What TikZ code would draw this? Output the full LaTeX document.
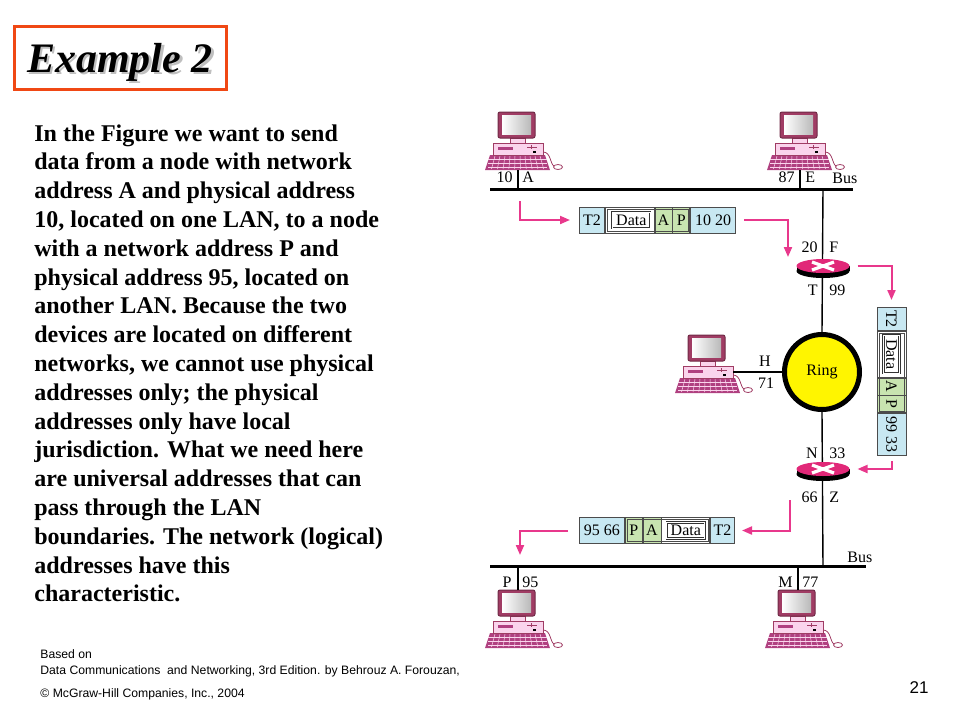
\documentclass[tikz,border=0pt]{standalone}
\usepackage{fontspec}
\setmainfont{Liberation Serif}
\newfontfamily\footfont{Liberation Sans}
\usepackage{xcolor}
\usepackage{tikz}
\usetikzlibrary{positioning,arrows.meta,calc}

\definecolor{titlered}{RGB}{240,72,20}
\definecolor{pinkline}{RGB}{232,56,140}
\definecolor{cellblue}{RGB}{200,232,242}
\definecolor{cellgreen}{RGB}{200,228,176}
\definecolor{ringyellow}{RGB}{255,245,0}
\definecolor{routerpink}{RGB}{225,40,120}
\definecolor{pcframe}{RGB}{160,60,100}
\definecolor{pcbody}{RGB}{250,212,236}
\definecolor{pckeys}{RGB}{176,64,128}

\newcommand\diagfont{\fontsize{8}{9.6}\selectfont}

\begin{document}
\begin{tikzpicture}[
    x=0.5pt, y=-0.5pt,
    bus/.style={line width=1.5pt},
    link/.style={line width=0.7pt},
    flow/.style={draw=pinkline, line width=1pt, -{Triangle[length=5pt,width=4pt]}},
    lbl/.style={font=\diagfont, inner sep=0pt},
    cell/.style={draw=black!70, line width=0.4pt, minimum height=13pt, inner sep=0pt, font=\diagfont, anchor=west},
    hdr/.style={cell, fill=cellblue},
    addr/.style={cell, fill=cellgreen},
    databox/.style={draw=black!80, double, double distance=0.5pt, line width=0.3pt, fill=white, minimum width=19pt, minimum height=8pt, inner sep=0.5pt, font=\diagfont},
    ringnode/.style={circle, draw, line width=2.5pt, fill=ringyellow, minimum size=37.5pt, font=\diagfont},
    body/.style={font=\fontsize{12}{14.4}\selectfont\bfseries, align=left, inner sep=0pt, anchor=north west},
    foot/.style={font=\footfont\fontsize{6.1}{7.2}\selectfont, inner sep=0pt, anchor=west},
    router/.pic={
        \fill[black] (0,5) ellipse [x radius=26.5, y radius=7];
        \fill[black] (-26.5,0) rectangle (26.5,5);
        \fill[routerpink] (0,0) ellipse [x radius=26.5, y radius=7];
        \draw[white, line width=1.6pt] (-11,-4) -- (11,4) (-11,4) -- (11,-4);
        \coordinate (-right) at (26.5,0);
    },
    computer/.pic={
        % keyboard
        \fill[pckeys] (-27,43) -- (28,43) -- (33,58) -- (-32,58) -- cycle;
        \foreach \k in {-22,-17,...,23}
            \draw[pcbody, line width=0.25pt] (\k,44) -- ({\k*1.16},57);
        \foreach \r in {47,51,55}
            \draw[pcbody, line width=0.25pt] (-29,\r) -- (30,\r);
        % mouse
        \draw[pcframe, line width=0.4pt] (26,40) .. controls (34,40) and (33,52) .. (37,54);
        \filldraw[draw=pcframe, fill=white, line width=0.4pt] (41,55) ellipse [x radius=4.5, y radius=2.5];
        % base unit
        \filldraw[fill=pcbody, draw=pcframe, line width=0.5pt] (-24,31) rectangle (26,43);
        \fill[pckeys] (-19,35) rectangle (-4,38);
        \draw[pcframe, line width=0.4pt] (10,35) -- (20,35) (14,33) -- (14,37);
        \fill[black] (16,39) rectangle (19,41);
        % stand
        \filldraw[fill=pcbody, draw=pcframe, line width=0.5pt] (-7,26) rectangle (8,31);
        % monitor
        \filldraw[fill=pcframe, draw=pcframe!70!black, line width=0.5pt, rounded corners=1pt] (-19,0) rectangle (18,26);
        \shade[left color=white, right color=gray!55] (-15,3) rectangle (14,22);
        \coordinate (-top) at (1,0);
        \coordinate (-port) at (1,58);
        \coordinate (-side) at (26,37);
    }
]
\useasboundingbox (0,0) rectangle (960,720);

% title
\node[draw=titlered, line width=1.5pt, minimum width=106pt, minimum height=31.5pt, inner sep=0pt] (titlebox) at (120.5,58) {};
\node[font=\fontsize{21}{24}\selectfont\bfseries\itshape, text=black!25, anchor=base] (titleshade) at (122.5,74.5) {Example 2};
\node[font=\fontsize{21}{24}\selectfont\bfseries\itshape, anchor=base] (title) at (120,72) {Example 2};

% description
\node[body] (desc) at (34,124) {In the Figure we want to send\\
data from a node with network\\
address A and physical address\\
10, located on one LAN, to a node\\
with a network address P and\\
physical address 95, located on\\
another LAN. Because the two\\
devices are located on different\\
networks, we cannot use physical\\
addresses only; the physical\\
addresses only have local\\
jurisdiction. What we need here\\
are universal addresses that can\\
pass through the LAN\\
boundaries. The network (logical)\\
addresses have this\\
characteristic.};

% source
\node[foot] (based) at (40,654) {Based on};
\node[foot] (book) at (40,671) {Data Communications\ \ and Networking, 3rd Edition. by Behrouz A. Forouzan,};
\node[foot] (copy) at (40,694) {\textcopyright{} McGraw-Hill Companies, Inc., 2004};
\node[font=\footfont\fontsize{8.5}{10}\selectfont, inner sep=0pt] (pageno) at (919,688) {21};

% computers
\pic (pcA) at (517,112) {computer};
\pic (pcE) at (799,112) {computer};
\pic (pcH) at (707,335) {computer};
\pic (pcP) at (517,590) {computer};
\pic (pcM) at (797,590) {computer};

% buses and links
\coordinate (busTL) at (490,189);
\coordinate (busTR) at (853,189);
\coordinate (tapF) at (823,189);
\coordinate (busBL) at (490,566);
\coordinate (busBR) at (866,566);
\coordinate (tapZ) at (823,566);

\node[ringnode] (ring) at (822,372) {Ring};

\draw[bus] (busTL) -- (busTR);
\draw[bus] (busBL) -- (busBR);
\draw[link] (pcA-port) -- (pcA-port |- busTL);
\draw[link] (pcE-port) -- (pcE-port |- busTL);
\draw[link] (pcP-top) -- (pcP-top |- busBL);
\draw[link] (pcM-top) -- (pcM-top |- busBL);
\draw[link] (pcH-side) -- (ring.west);
\draw[link] (tapF) -- (ring.north);
\draw[link] (ring.south) -- (tapZ);

% routers
\pic (rF) at (823,266) {router};
\pic (rN) at (823,469) {router};

% labels
\node[lbl, anchor=east] (lA10) at (513,177) {10};
\node[lbl, anchor=west] (lAa) at (522,177) {A};
\node[lbl, anchor=east] (lE87) at (795,177) {87};
\node[lbl, anchor=west] (lEe) at (805,177) {E};
\node[lbl, anchor=west] (lbusT) at (832,178) {Bus};
\node[lbl, anchor=east] (lF20) at (818,247) {20};
\node[lbl, anchor=west] (lFf) at (829,247) {F};
\node[lbl, anchor=east] (lFt) at (818,290) {T};
\node[lbl, anchor=west] (lF99) at (829,290) {99};
\node[lbl] (lHh) at (765,361) {H};
\node[lbl] (lH71) at (766,383) {71};
\node[lbl, anchor=east] (lNn) at (818,453) {N};
\node[lbl, anchor=west] (lN33) at (829,453) {33};
\node[lbl, anchor=east] (lN66) at (818,497) {66};
\node[lbl, anchor=west] (lNz) at (829,497) {Z};
\node[lbl, anchor=west] (lbusB) at (847,557) {Bus};
\node[lbl, anchor=east] (lPp) at (512,582) {P};
\node[lbl, anchor=west] (lP95) at (522,582) {95};
\node[lbl, anchor=east] (lMm) at (793,582) {M};
\node[lbl, anchor=west] (lM77) at (802,582) {77};

% frame A -> F
\node[hdr, minimum width=12.5pt] (fa1) at (579,220) {T2};
\node[cell, fill=white, minimum width=24.5pt, right=0pt of fa1] (fa2) {};
\node[addr, minimum width=8.5pt, right=0pt of fa2] (fa3) {A};
\node[addr, minimum width=8.5pt, right=0pt of fa3] (fa4) {P};
\node[hdr, minimum width=22.5pt, right=0pt of fa4] (fa5) {10 20};
\draw[black!70, line width=0.3pt] ([shift={(1.2pt,-1.2pt)}]fa2.north west) rectangle ([shift={(-1.2pt,1.2pt)}]fa4.south east);
\node[databox] (fa2d) at ([xshift=0.8pt]fa2.center) {Data};

% frame T -> N
\node[hdr, rotate=-90, minimum width=11.5pt, minimum height=14.5pt] (fb1) at (891.5,307) {T2};
\node[cell, fill=white, rotate=-90, minimum width=23pt, minimum height=14.5pt] (fb2) at (fb1.east) {};
\node[addr, rotate=-90, minimum width=8.5pt, minimum height=14.5pt] (fb3) at (fb2.east) {A};
\node[addr, rotate=-90, minimum width=8.5pt, minimum height=14.5pt] (fb4) at (fb3.east) {P};
\node[hdr, rotate=-90, minimum width=21pt, minimum height=14.5pt] (fb5) at (fb4.east) {99 33};
\draw[black!70, line width=0.3pt] ([shift={(-1.2pt,-1.2pt)}]fb2.north west) rectangle ([shift={(1.2pt,1.2pt)}]fb4.south east);
\node[databox, rotate=-90] (fb2d) at (fb2.center) {Data};

% frame Z -> P
\node[hdr, minimum width=22.5pt] (fc1) at (579,530.5) {95 66};
\node[addr, minimum width=8.5pt, right=0pt of fc1] (fc2) {P};
\node[addr, minimum width=9pt, right=0pt of fc2] (fc3) {A};
\node[cell, fill=white, minimum width=24pt, right=0pt of fc3] (fc4) {};
\node[hdr, minimum width=12pt, right=0pt of fc4] (fc5) {T2};
\draw[black!70, line width=0.3pt] ([shift={(1.2pt,-1.2pt)}]fc2.north west) rectangle ([shift={(-1.2pt,1.2pt)}]fc4.south east);
\node[databox] (fc4d) at (fc4.center) {Data};

% flow of the frame
\coordinate (fromA) at (520,201);
\coordinate (toF) at (788,257);
\coordinate (fromZ) at (790,500);
\coordinate (toP) at (520,555);
\draw[flow, shorten >=4.5pt] (fromA) |- (fa1.west);
\draw[flow] ([xshift=4pt]fa5.east) -| (toF);
\draw[flow, shorten >=3.5pt] ([xshift=4pt]rF-right) -| (fb1.west);
\draw[flow] ([yshift=-2.5pt]fb5.east) |- ([xshift=4pt]rN-right);
\draw[flow, shorten >=3.5pt] (fromZ) |- (fc5.east);
\draw[flow] ([xshift=-5.5pt]fc1.west) -| (toP);

\end{tikzpicture}
\end{document}
